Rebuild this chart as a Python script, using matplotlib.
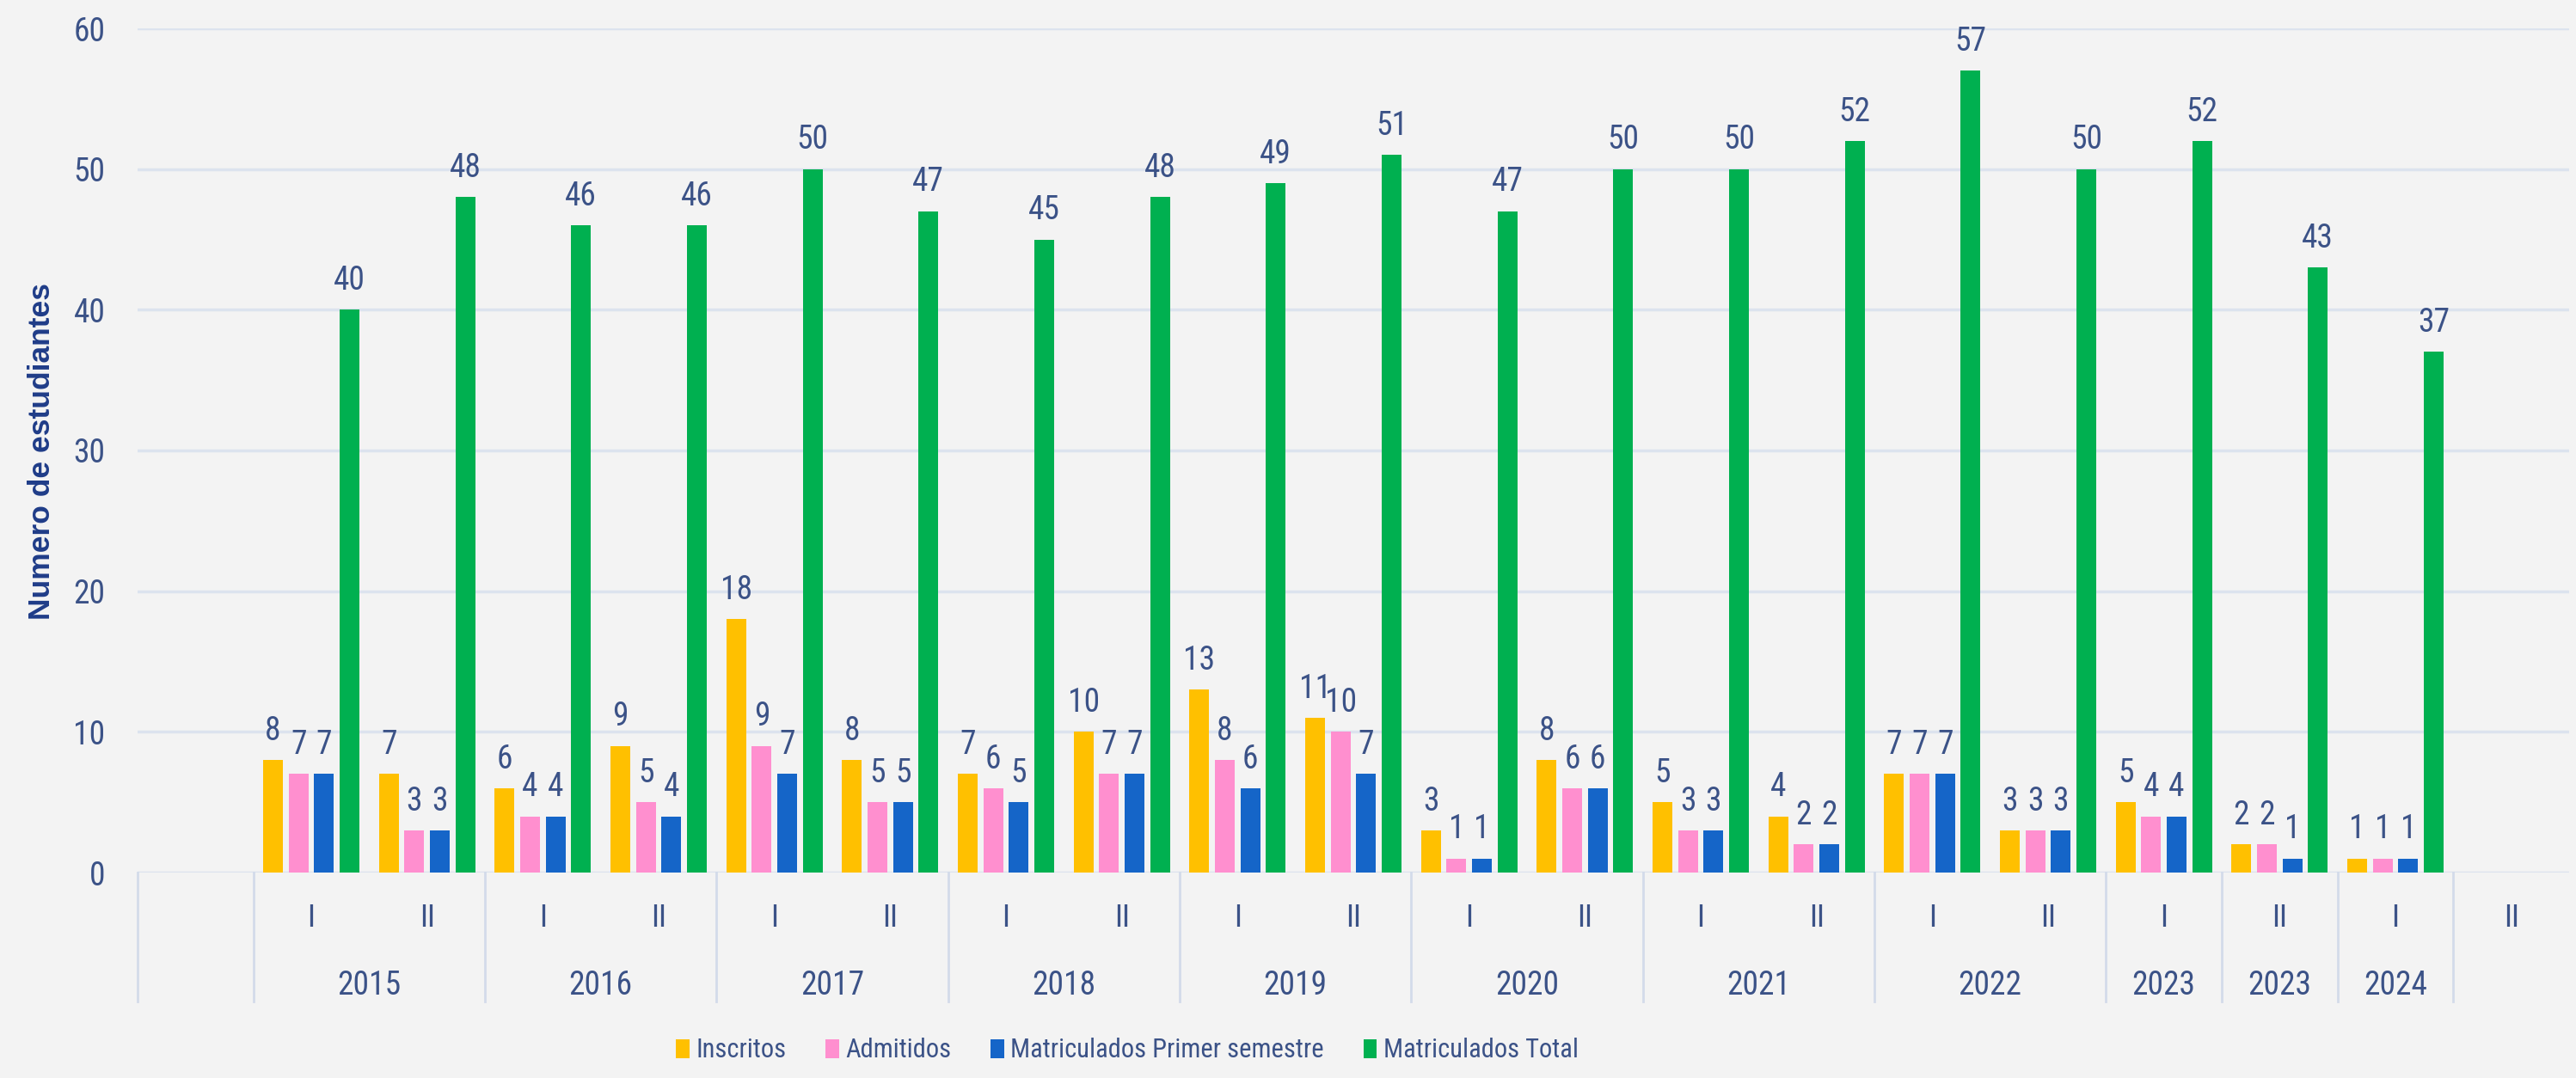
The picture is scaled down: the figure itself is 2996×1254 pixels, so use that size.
import matplotlib
matplotlib.use("Agg")
import matplotlib.pyplot as plt
from matplotlib import font_manager as fm
from matplotlib.transforms import blended_transform_factory
from matplotlib.lines import Line2D
import numpy as np

# ---------------- data ----------------
semesters = ["", "I", "II", "I", "II", "I", "II", "I", "II", "I", "II",
             "I", "II", "I", "II", "I", "II", "I", "II", "I", "II"]
year_groups = [("", 0, 0), ("2015", 1, 2), ("2016", 3, 4), ("2017", 5, 6),
               ("2018", 7, 8), ("2019", 9, 10), ("2020", 11, 12),
               ("2021", 13, 14), ("2022", 15, 16), ("2023", 17, 17),
               ("2023", 18, 18), ("2024", 19, 19), ("", 20, 20)]
# values for slots 1..19 (2015-I ... 2024-I)
inscritos = [8, 7, 6, 9, 18, 8, 7, 10, 13, 11, 3, 8, 5, 4, 7, 3, 5, 2, 1]
admitidos = [7, 3, 4, 5, 9, 5, 6, 7, 8, 10, 1, 6, 3, 2, 7, 3, 4, 2, 1]
matric_ps = [7, 3, 4, 4, 7, 5, 5, 7, 6, 7, 1, 6, 3, 2, 7, 3, 4, 1, 1]
matric_total = [40, 48, 46, 46, 50, 47, 45, 48, 49, 51, 47, 50, 50, 52, 57,
                50, 52, 43, 37]
series_names = ["Inscritos", "Admitidos", "Matriculados Primer semestre",
                "Matriculados Total"]
yticks = [0, 10, 20, 30, 40, 50, 60]

# ---------------- style ----------------
colors = ["#FFC000", "#FF8FCF", "#1565C8", "#00B050"]
TEXT = "#3B5287"
TITLE = "#1F3C88"
BG = "#F3F3F3"
GRID = "#DCE3EE"
SEP = "#D3DBEA"

names = {f.name for f in fm.fontManager.ttflist}
narrow = None
for cand in ["Liberation Sans Narrow", "Roboto Condensed", "Open Sans Condensed"]:
    if cand in names:
        narrow = cand
        break
if narrow is None:
    nfont = dict(family="DejaVu Sans", stretch="condensed")
else:
    nfont = dict(family=narrow)

W, H = 2996, 1254
fig = plt.figure(figsize=(W / 100, H / 100), dpi=100, facecolor=BG)
ax = fig.add_axes([160 / W, 1 - 1015 / H, 2828 / W, 982 / H])
ax.set_facecolor(BG)

n_slots = len(semesters)
slots = np.arange(1, 1 + len(inscritos))
offsets = [-0.33, -0.11, 0.11, 0.33]
bw = 0.17
handles = []
for vals, off, col, name in zip([inscritos, admitidos, matric_ps, matric_total],
                                offsets, colors, series_names):
    bars = ax.bar(slots + off, vals, width=bw, color=col, label=name, zorder=3)
    handles.append(bars)
    for x, v in zip(slots + off, vals):
        ax.annotate(str(v), (x, v), xytext=(0, 11), textcoords="offset points",
                    ha="center", va="bottom", fontsize=27, color=TEXT,
                    zorder=4, **nfont)

ax.set_xlim(-0.5, n_slots - 0.5)
ax.set_ylim(0, 60)
ax.set_yticks(yticks)
ax.yaxis.grid(True, color=GRID, linewidth=2.5)
ax.set_axisbelow(True)
ax.set_xticks([])
for s in ax.spines.values():
    s.set_visible(False)
ax.tick_params(axis="y", length=0, pad=27, labelcolor=TEXT)
for lab in ax.get_yticklabels():
    lab.set_fontproperties(fm.FontProperties(size=27, **nfont))

trans = blended_transform_factory(ax.transData, ax.transAxes)
# semester labels
for i, s in enumerate(semesters):
    if s:
        ax.text(i, -0.054, s, transform=trans, ha="center", va="center",
                fontsize=26, color=TEXT, **nfont)
# year labels and separators
for lab, a, b in year_groups:
    if lab:
        ax.text((a + b) / 2, -0.1344, lab, transform=trans, ha="center",
                va="center", fontsize=27, color=TEXT, **nfont)
for x in [-0.5, 0.5, 2.5, 4.5, 6.5, 8.5, 10.5, 12.5, 14.5, 16.5, 17.5, 18.5, 19.5]:
    ax.add_line(Line2D([x, x], [0, -0.153], transform=trans, color=SEP,
                       linewidth=2, clip_on=False))

fig.text(48 / W, 1 - 525 / H, "Numero de estudiantes", rotation=90,
         ha="center", va="center", fontsize=25.5, fontweight="bold",
         color=TITLE, family="Liberation Sans")

leg = fig.legend(handles, series_names, loc="center",
                 bbox_to_anchor=(1311 / W, 1 - 1222 / H), ncol=4,
                 frameon=False, handlelength=0.5, handleheight=0.75,
                 handletextpad=0.25, columnspacing=1.5,
                 prop=fm.FontProperties(size=22, **nfont))
for t in leg.get_texts():
    t.set_color(TEXT)

fig.savefig("out.png", dpi=100, facecolor=BG)
